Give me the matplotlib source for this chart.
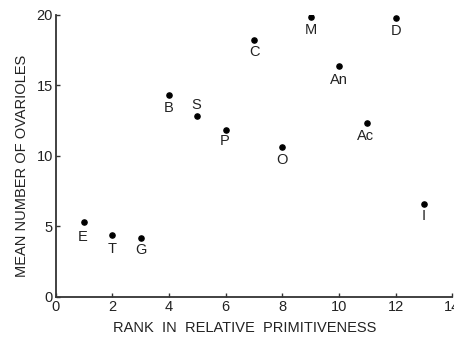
import matplotlib.pyplot as plt

rank = [1, 2, 3, 4, 5, 6, 7, 8, 9, 10, 11, 12, 13]
ovarioles = [5.3, 4.4, 4.2, 14.3, 12.8, 11.85, 18.25, 10.6, 19.85, 16.4, 12.35, 19.8, 6.6]
names = ['E', 'T', 'G', 'B', 'S', 'P', 'C', 'O', 'M', 'An', 'Ac', 'D', 'I']
# label offset from its dot, in points
dx = [-1, 0, 0, 0, -1, -1, 0, 0, 0, 0, -1, 0, 0]
dy = [-11, -10, -9, -9.5, 8.5, -8, -9, -9, -9, -10.5, -9.5, -9.5, -9]

plt.rcParams['font.family'] = ['Liberation Sans', 'DejaVu Sans']
fig = plt.figure(figsize=(4.54, 3.39), dpi=100)
ax = fig.add_axes([0.123, 0.124, 0.873, 0.832])

ax.scatter(rank, ovarioles, s=14, color='black', zorder=3)
for x, y, n, ox, oy in zip(rank, ovarioles, names, dx, dy):
	ax.annotate(n, (x, y), xytext=(ox, oy), textcoords='offset points',
		ha='center', va='center', fontsize=10.5, color='#222222')

ax.set_xlim(0, 14)
ax.set_ylim(0, 20)
ax.set_xticks(range(0, 15, 2))
ax.set_yticks(range(0, 21, 5))
ax.spines['top'].set_visible(False)
ax.spines['right'].set_visible(False)
for s in ['left', 'bottom']:
	ax.spines[s].set_linewidth(1.3)
	ax.spines[s].set_color('#333333')
ax.tick_params(direction='in', length=3, width=1, labelsize=10.5, colors='#333333', labelcolor='#222222', pad=2)

ax.set_xlabel('RANK  IN  RELATIVE  PRIMITIVENESS', fontsize=10.5, color='#222222')
ax.set_ylabel('MEAN NUMBER OF OVARIOLES', fontsize=10.5, color='#222222')
ax.xaxis.set_label_coords(0.477, -0.085)
ax.yaxis.set_label_coords(-0.067, 0.465)

plt.savefig('out.png', dpi=100)
